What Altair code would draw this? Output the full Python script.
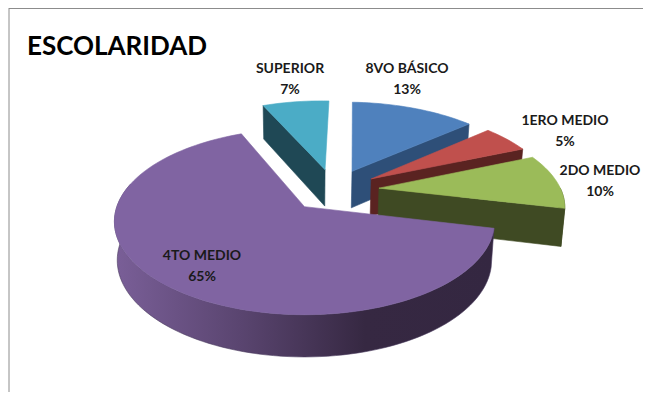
import math
import altair as alt
import pandas as pd

categories = ["8VO BÁSICO", "1ERO MEDIO", "2DO MEDIO", "4TO MEDIO", "SUPERIOR"]
values = [13, 5, 10, 65, 7]
top_colors = ["#4F81BD", "#C0504D", "#9BBB59", "#8064A2", "#4BACC6"]
wall_colors = ["#2E4F78", "#5A2321", "#3F4A23", "#352843", "#1F4855"]
title_text = "ESCOLARIDAD"
label_anchor = [(407, 68.5), (565, 120.5), (600, 170.5), (202, 255.5), (290, 68.5)]

# 3D pie view parameters
START = 2.5
EXPLODE = 0.25
K, W, H = 0.161, 187.5, 90.6
X0, Y0 = 304, 206.5
CENTRE = (0.164, 0.189)

CHART_W, CHART_H = 635, 384
X_SCALE = alt.Scale(domain=[8, 8 + CHART_W], nice=False, zero=False)
Y_SCALE = alt.Scale(domain=[8 + CHART_H, 8], nice=False, zero=False)


def project(wx, wz, drop=False):
    f = 1 + K * wz
    x = X0 + W * wx / f
    y = Y0 - H * wz / f
    if drop:
        x = X0 + (x - X0) * 0.985
        y = y + 38 / (1 + 0.1 * wz)
    return x, y


def rim(apex, deg):
    a = math.radians(deg)
    return apex[0] + math.sin(a), apex[1] + math.cos(a)


def arc_degs(a, b):
    n = max(2, int((b - a) / 2))
    return [a + (b - a) * i / n for i in range(n + 1)]


def frame(points):
    return pd.DataFrame(
        [{"x": p[0], "y": p[1], "i": i} for i, p in enumerate(points)]
    )


def poly(points, fill, sw=0.6):
    stroke = fill if isinstance(fill, str) else "#4a3a5e"
    return (
        alt.Chart(frame(points))
        .mark_line(fill=fill, stroke=stroke, strokeWidth=sw, interpolate="linear-closed")
        .encode(
            x=alt.X("x:Q", scale=X_SCALE, axis=None),
            y=alt.Y("y:Q", scale=Y_SCALE, axis=None),
            order="i:Q",
        )
    )


spans = []
acc = START
for v in values:
    spans.append((acc, acc + v * 3.6))
    acc += v * 3.6

parts = {}
for idx, (a, b) in enumerate(spans):
    m = math.radians((a + b) / 2)
    apex = (CENTRE[0] + EXPLODE * math.sin(m), CENTRE[1] + EXPLODE * math.cos(m))
    parts[idx] = (apex, a, b)


def top_layer(idx):
    apex, a, b = parts[idx]
    pts = [project(*apex)] + [project(*rim(apex, d)) for d in arc_degs(a, b)]
    return poly(pts, top_colors[idx])


def cut_wall(idx, deg):
    apex, _, _ = parts[idx]
    c = rim(apex, deg)
    pts = [project(*apex), project(*c), project(*c, drop=True), project(*apex, drop=True)]
    return poly(pts, wall_colors[idx])


def outer_wall(idx, a, b, fill):
    apex, _, _ = parts[idx]
    ds = arc_degs(a, b)
    pts = [project(*rim(apex, d)) for d in ds]
    pts += [project(*rim(apex, d), drop=True) for d in reversed(ds)]
    return poly(pts, fill)


wall_gradient = alt.Gradient(
    gradient="linear",
    x1=0, x2=1, y1=0, y2=0,
    stops=[
        alt.GradientStop(offset=0, color="#7A5F98"),
        alt.GradientStop(offset=0.33, color="#5A4570"),
        alt.GradientStop(offset=0.66, color="#362842"),
        alt.GradientStop(offset=1, color="#342741"),
    ],
)

layers = [
    cut_wall(4, spans[4][0]), top_layer(4),
    cut_wall(0, spans[0][1]), top_layer(0),
    cut_wall(1, spans[1][1]), top_layer(1),
    outer_wall(2, 90, spans[2][1], wall_colors[2]),
    cut_wall(2, spans[2][1]), top_layer(2),
    outer_wall(3, spans[3][0], 285, wall_gradient), top_layer(3),
]

# frame lines
layers.append(alt.Chart(pd.DataFrame({"a": [0]})).mark_rule(color="#8C8C8C", strokeWidth=1).encode(
    x=alt.value(1), y=alt.value(0), y2=alt.value(CHART_H)))
layers.append(alt.Chart(pd.DataFrame({"a": [0]})).mark_rule(color="#8C8C8C", strokeWidth=2).encode(
    x=alt.value(1), x2=alt.value(CHART_W), y=alt.value(0)))

rows = []
for c, v, (lx, ly) in zip(categories, values, label_anchor):
    rows.append({"x": lx, "y": ly, "t": c})
    rows.append({"x": lx, "y": ly + 21, "t": f"{v}%"})
labels = alt.Chart(pd.DataFrame(rows)).mark_text(
    font="Lato", fontSize=14, fontWeight="bold", color="#1a1a1a", align="center", baseline="middle"
).encode(
    x=alt.X("x:Q", scale=X_SCALE, axis=None),
    y=alt.Y("y:Q", scale=Y_SCALE, axis=None),
    text="t:N",
)
title = alt.Chart(pd.DataFrame({"x": [27], "y": [47], "t": [title_text]})).mark_text(
    font="Lato", fontSize=26, fontWeight="bold", color="#000000", align="left", baseline="middle"
).encode(
    x=alt.X("x:Q", scale=X_SCALE, axis=None),
    y=alt.Y("y:Q", scale=Y_SCALE, axis=None),
    text="t:N",
)
layers += [labels, title]

chart = alt.layer(*layers).properties(
    width=CHART_W, height=CHART_H, padding=0, autosize="none", background="white"
).configure_view(stroke=None)

chart.save("out.html", embed_options={"renderer": "svg", "actions": False})
